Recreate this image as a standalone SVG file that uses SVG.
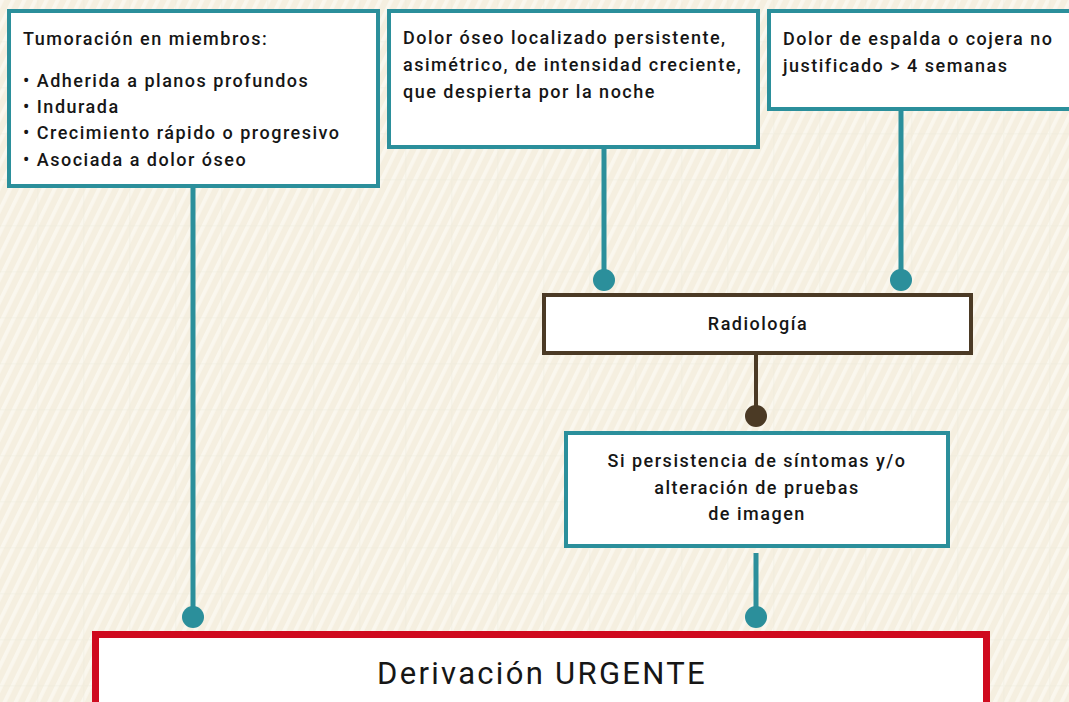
<svg xmlns="http://www.w3.org/2000/svg" width="1069" height="702" viewBox="0 0 1069 702">
<defs>
<pattern id="stripes" width="10" height="40" patternUnits="userSpaceOnUse" patternTransform="rotate(26)">
<rect width="10" height="40" fill="#f5efe0"/>
<rect x="0" y="0" width="3.8" height="40" fill="#faf7ee"/>
</pattern>
<pattern id="grid" width="46" height="46" patternUnits="userSpaceOnUse" x="37" y="41">
<path d="M0 0.5H46M0.5 0V46" stroke="#e9e6d6" stroke-width="2" fill="none" opacity="0.25"/>
</pattern>
</defs>
<style>
.t{font-family:Roboto,"Liberation Sans",sans-serif;font-size:18px;font-weight:500;letter-spacing:1.5px;fill:#161616;}
.big{font-size:31px;font-weight:400;letter-spacing:2.3px;}
.box{fill:#fff;stroke:#2b8f9b;stroke-width:4;}
.brown{fill:#fff;stroke:#4b3a25;stroke-width:4;}
.red{fill:#fff;stroke:#cf0a1e;stroke-width:7;}
.tl{stroke:#2b8f9b;stroke-width:5;fill:none;}
.bl{stroke:#4b3a25;stroke-width:4;fill:none;}
.td{fill:#2b8f9b;}
.bd{fill:#4b3a25;}
</style>
<rect width="1069" height="702" fill="url(#stripes)"/>
<rect width="1069" height="702" fill="url(#grid)"/>
<g id="connectors">
<line class="tl" x1="193" y1="188" x2="193" y2="612"/>
<circle class="td" cx="193" cy="617" r="11"/>
<line class="tl" x1="604" y1="149" x2="604" y2="275"/>
<circle class="td" cx="604" cy="280" r="11"/>
<line class="tl" x1="901" y1="111" x2="901" y2="275"/>
<circle class="td" cx="901" cy="280" r="11"/>
<line class="bl" x1="756" y1="355" x2="756" y2="410"/>
<circle class="bd" cx="756" cy="416" r="11"/>
<line class="tl" x1="756" y1="553" x2="756" y2="612"/>
<circle class="td" cx="756" cy="617" r="11"/>
</g>
<g id="n1">
<rect class="box" x="9" y="11" width="369" height="175"/>
<text class="t" x="23" y="45">Tumoración en miembros:</text>
<text class="t" x="23" y="87">• Adherida a planos profundos</text>
<text class="t" x="23" y="113">• Indurada</text>
<text class="t" x="23" y="139">• Crecimiento rápido o progresivo</text>
<text class="t" x="23" y="166">• Asociada a dolor óseo</text>
</g>
<g id="n2">
<rect class="box" x="389" y="11" width="369" height="136"/>
<text class="t" x="403" y="44">Dolor óseo localizado persistente,</text>
<text class="t" x="403" y="71">asimétrico, de intensidad creciente,</text>
<text class="t" x="403" y="98">que despierta por la noche</text>
</g>
<g id="n3">
<rect class="box" x="769" y="11" width="310" height="98"/>
<text class="t" x="783" y="45">Dolor de espalda o cojera no</text>
<text class="t" x="783" y="72">justificado &gt; 4 semanas</text>
</g>
<g id="n4">
<rect class="brown" x="544" y="295" width="427" height="58"/>
<text class="t" x="758" y="330" text-anchor="middle">Radiología</text>
</g>
<g id="n5">
<rect class="box" x="566" y="433" width="382" height="113"/>
<text class="t" x="757" y="467" text-anchor="middle">Si persistencia de síntomas y/o</text>
<text class="t" x="757" y="494" text-anchor="middle">alteración de pruebas</text>
<text class="t" x="757" y="520" text-anchor="middle">de imagen</text>
</g>
<g id="n6">
<rect class="red" x="95.5" y="634.5" width="891" height="80"/>
<text class="t big" x="542" y="684" text-anchor="middle">Derivación URGENTE</text>
</g>
</svg>
